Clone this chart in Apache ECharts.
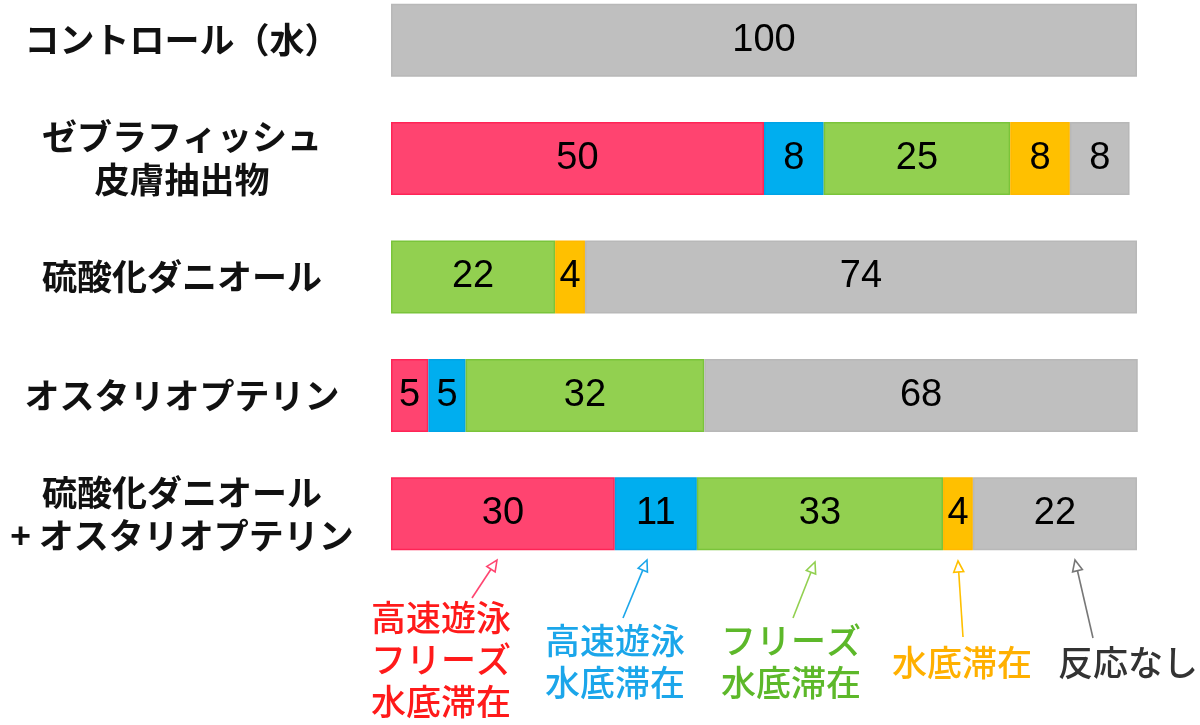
<!DOCTYPE html>
<html><head><meta charset="utf-8">
<script src="https://cdn.jsdelivr.net/npm/echarts@6/dist/echarts.min.js"></script>
<style>html,body{margin:0;padding:0;background:#fff}#c{width:1200px;height:725px}</style>
</head><body><div id="c"></div>
<script>
// ---- data ----
const categories = ['コントロール（水）', 'ゼブラフィッシュ\n皮膚抽出物', '硫酸化ダニオール', 'オスタリオプテリン', '硫酸化ダニオール\n+ オスタリオプテリン'];
const seriesNames = ['高速遊泳\nフリーズ\n水底滞在', '高速遊泳\n水底滞在', 'フリーズ\n水底滞在', '水底滞在', '反応なし'];
const redValues    = ['-', 50, '-', 5, 30];
const blueValues   = ['-', 8, '-', 5, 11];
const greenValues  = ['-', 25, 22, 32, 33];
const orangeValues = ['-', 8, 4, '-', 4];
const grayValues   = [100, 8, 74, 68, 22];
const xMin = 0, xMax = 100;

// ---- styles / layout ----
const fills   = ['#FF4470', '#00AEEF', '#92D050', '#FFC000', '#BFBFBF'];
const borders = ['#FF2456', '#00A3E6', '#7AC43A', '#FFB800', '#B8B8B8'];
const textColors  = ['#FF1A1A', '#1BA6EA', '#5DB82A', '#FFB000', '#333333'];
const arrowColors = ['#FF4470', '#1BA6EA', '#92D050', '#FFC000', '#777777'];
// annotation layout (pixels): text centre, arrow tail, arrow tip
const annoLayout = [
  {tx: 441, ty: 660, tail: [472, 598], tip: [497, 560]},
  {tx: 615, ty: 662, tail: [623, 618], tip: [647, 560]},
  {tx: 791, ty: 662, tail: [793, 618], tip: [815, 562]},
  {tx: 962, ty: 663, tail: [963, 637], tip: [958, 561]},
  {tx: 1128, ty: 663, tail: [1093, 638], tip: [1075, 560]}
];

const allValues = [redValues, blueValues, greenValues, orangeValues, grayValues];

const series = allValues.map((vals, i) => ({
  type: 'bar',
  name: seriesNames[i],
  stack: 'total',
  data: vals,
  barWidth: 73,
  clip: true,
  itemStyle: {color: fills[i], borderColor: borders[i], borderWidth: 1.5},
  label: {
    show: true, position: 'inside', formatter: '{c}',
    color: '#000', fontSize: 38, fontFamily: 'Liberation Sans, Arial, sans-serif'
  },
  emphasis: {disabled: true}
}));

const graphics = [];
annoLayout.forEach((a, i) => {
  const dx = a.tip[0] - a.tail[0], dy = a.tip[1] - a.tail[1];
  const len = Math.sqrt(dx * dx + dy * dy);
  const ux = dx / len, uy = dy / len, nx = -uy, ny = ux;
  const L = 11, W = 5;
  const bx = a.tip[0] - ux * L, by = a.tip[1] - uy * L;
  graphics.push({
    type: 'line', silent: true,
    shape: {x1: a.tail[0], y1: a.tail[1], x2: bx, y2: by},
    style: {stroke: arrowColors[i], lineWidth: 1.6}
  });
  graphics.push({
    type: 'polygon', silent: true,
    shape: {points: [[a.tip[0], a.tip[1]], [bx + nx * W, by + ny * W], [bx - nx * W, by - ny * W]]},
    style: {fill: '#fff', stroke: arrowColors[i], lineWidth: 1.6}
  });
  graphics.push({
    type: 'text', silent: true,
    style: {
      text: seriesNames[i], x: a.tx, y: a.ty, align: 'center', verticalAlign: 'middle',
      fill: textColors[i], fontSize: 35, lineHeight: 42, fontWeight: 500,
      fontFamily: '"Noto Sans CJK JP", sans-serif'
    }
  });
});

const chart = echarts.init(document.getElementById('c'), null, {renderer: 'canvas'});
chart.setOption({
  animation: false,
  backgroundColor: '#fff',
  grid: {left: 391, width: 746, top: -19, height: 592, containLabel: false, outerBoundsMode: 'none'},
  xAxis: {type: 'value', min: xMin, max: xMax, show: false},
  yAxis: {
    type: 'category', data: categories, inverse: true,
    axisLine: {show: false}, axisTick: {show: false}, splitLine: {show: false},
    axisLabel: {
      align: 'center', margin: 209, color: '#111', fontSize: 35, fontWeight: 'bold',
      lineHeight: 43, fontFamily: '"Noto Sans CJK JP", sans-serif'
    }
  },
  series: series,
  graphic: graphics
});
</script></body></html>
